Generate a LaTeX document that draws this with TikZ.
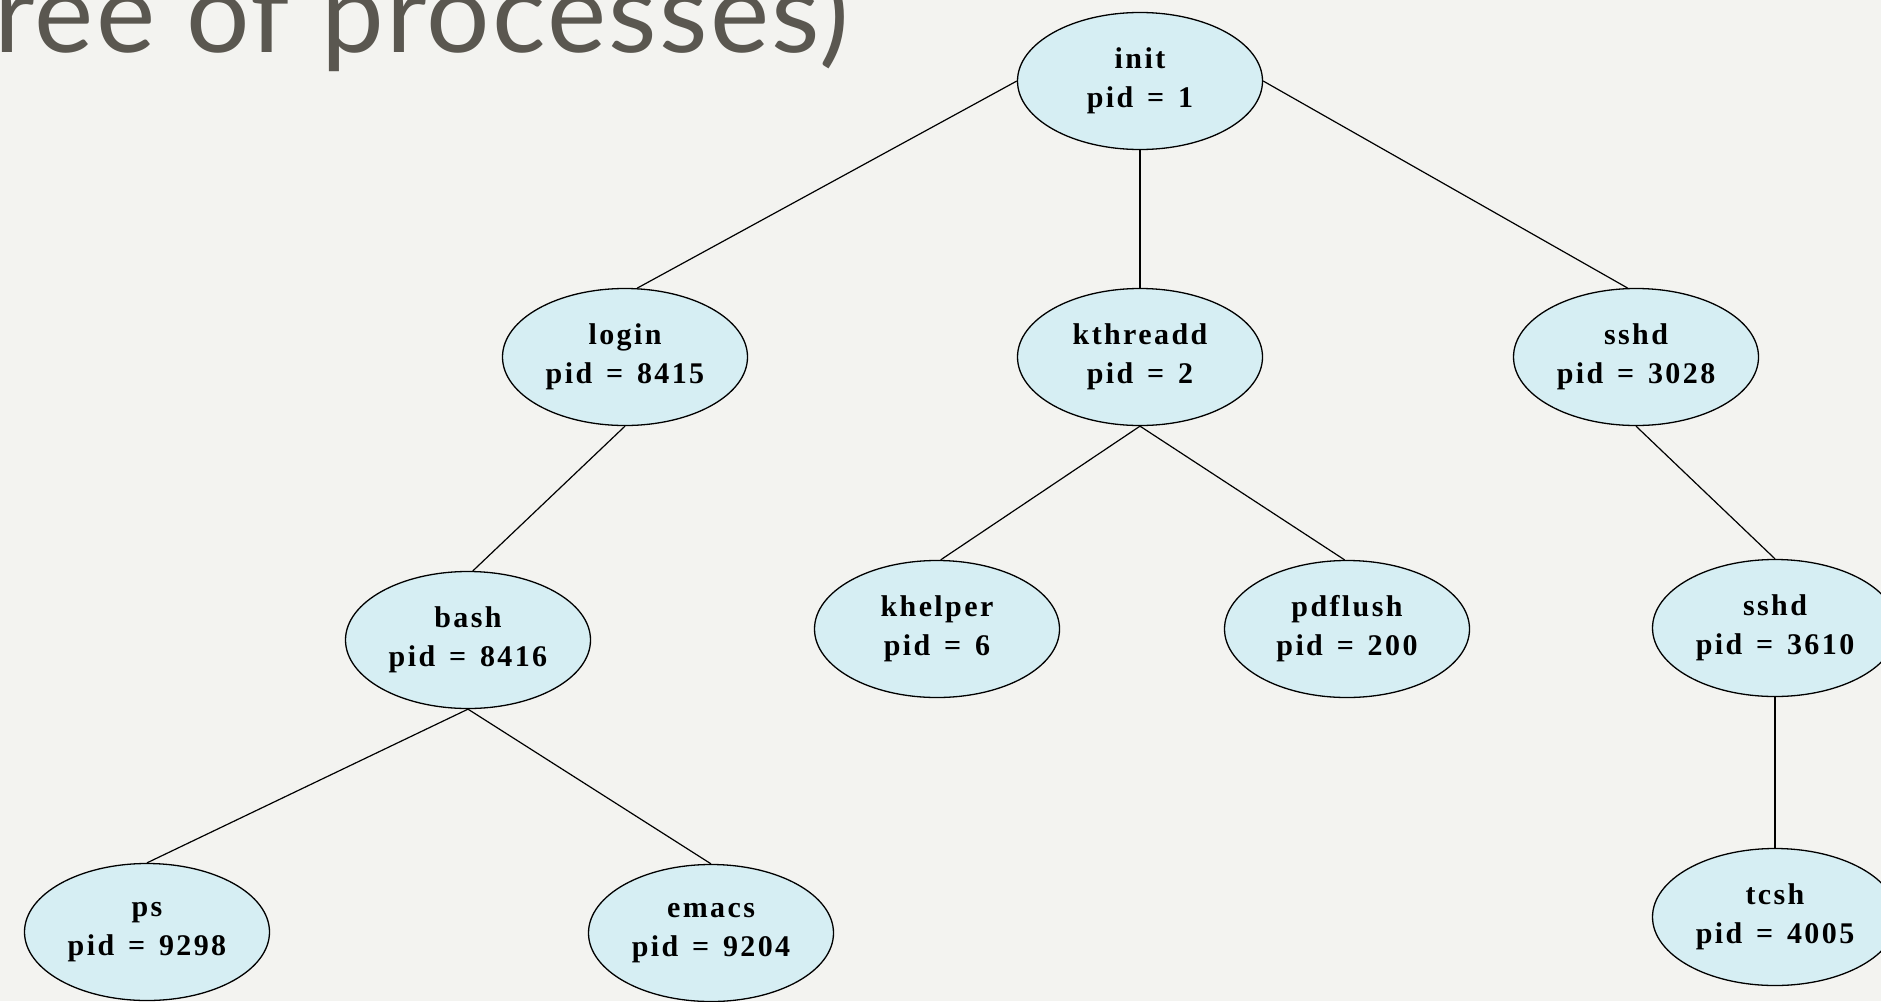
\documentclass[tikz,border=0pt]{standalone}
\usepackage{fontspec}
\usetikzlibrary{shapes.geometric}
\newfontfamily\procfont[LetterSpace=8,WordSpace=1.4]{Liberation Serif}
\newfontfamily\titlefont[LetterSpace=2]{Lato}
\definecolor{bgcol}{RGB}{243,243,240}
\definecolor{nodefill}{RGB}{214,238,243}
\definecolor{titlecol}{RGB}{90,87,80}
\tikzset{
  proc/.style={ellipse, draw=black, line width=1.3pt, fill=nodefill,
    minimum width=245pt, minimum height=137pt, inner sep=0pt, align=center,
    font=\procfont\fontsize{30}{39}\selectfont\bfseries},
  link/.style={draw=black, line width=1.2pt}
}
\begin{document}
\begin{tikzpicture}[x=1pt,y=-1pt]
\path[use as bounding box] (0,0) rectangle (1881,1001);
\fill[bgcol] (0,0) rectangle (1881,1001);
\begin{scope}
\clip (0,0) rectangle (1881,1001);
\node[anchor=base west, inner sep=0pt, text=titlecol, font=\titlefont\fontsize{112}{120}\selectfont] (title) at (-6,52) {ree of processes)};
\node[proc] (init) at (1140,81) {init\\pid = 1};
\node[proc] (login) at (625,357) {login\\pid = 8415};
\node[proc] (kthreadd) at (1140,357) {kthreadd\\pid = 2};
\node[proc] (sshdA) at (1636,357) {sshd\\pid = 3028};
\node[proc] (bash) at (468,640) {bash\\pid = 8416};
\node[proc] (khelper) at (937,629) {khelper\\pid = 6};
\node[proc] (pdflush) at (1347,629) {pdflush\\pid = 200};
\node[proc] (sshdB) at (1775,628) {sshd\\pid = 3610};
\node[proc] (ps) at (147,932) {ps\\pid = 9298};
\node[proc] (emacs) at (711,933) {emacs\\pid = 9204};
\node[proc] (tcsh) at (1775,917) {tcsh\\pid = 4005};
\end{scope}
\path[link] (init.west) -- (login.80);
\path[link] (init.south) -- (kthreadd.north);
\path[link] (init.east) -- (sshdA.97);
\path[link] (login.south) -- (bash.86);
\path[link] (kthreadd.south) -- (khelper.87);
\path[link] (kthreadd.south) -- (pdflush.92);
\path[link] (sshdA.south) -- (sshdB.north);
\path[link] (bash.south) -- (ps.north);
\path[link] (bash.south) -- (emacs.north);
\path[link] (sshdB.south) -- (tcsh.north);
\end{tikzpicture}
\end{document}
